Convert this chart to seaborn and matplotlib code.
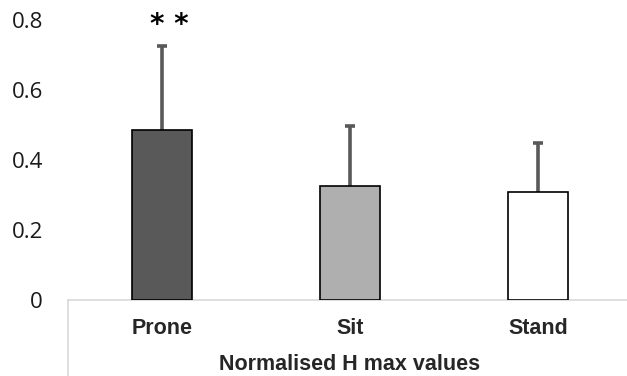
import pandas as pd
import seaborn as sns
import matplotlib.pyplot as plt
from matplotlib.lines import Line2D

sns.set_style("white")

postures = ["Prone", "Sit", "Stand"]
h_max = [0.486, 0.326, 0.310]
sd = [0.240, 0.171, 0.139]
bar_colors = ["#595959", "#afafaf", "#ffffff"]
y_ticks = [0, 0.2, 0.4, 0.6, 0.8]
y_tick_labels = ["0", "0.2", "0.4", "0.6", "0.8"]

df = pd.DataFrame({"posture": postures, "h_max": h_max, "sd": sd})
df["top"] = df["h_max"] + df["sd"]

fig = plt.figure(figsize=(6.27, 3.76), dpi=100)
ax = fig.add_axes([68 / 627, 1 - 300 / 376, 564 / 627, 280 / 376])

sns.barplot(data=df, x="posture", y="h_max", hue="posture", palette=bar_colors,
            width=0.32, edgecolor="black", linewidth=1.2, legend=False, ax=ax)
for p in ax.patches:
    p.set_zorder(3)

# upward-only error bars with a cap only at the top
ax.errorbar(range(len(postures)), df["h_max"], yerr=[[0] * len(sd), df["sd"]],
            fmt="none", ecolor="#595959", elinewidth=2.6, capsize=0, zorder=1)
ax.scatter(range(len(postures)), df["top"], marker="_", s=60, linewidths=2.6,
           color="#595959", zorder=1)

ax.text(0.04, 0.785, "* *", ha="center", va="center", fontsize=20, fontweight="bold",
        color="black", clip_on=False)

ax.set_ylim(0, 0.8)
ax.set_xlim(-0.5, 2.5)
ax.set_yticks(y_ticks)
ax.set_yticklabels(y_tick_labels, fontfamily="Open Sans", fontsize=16, color="#1a1a1a")
ax.tick_params(axis="y", length=0, pad=18)
ax.tick_params(axis="x", length=0, pad=13)
for lab in ax.get_xticklabels():
    lab.set_fontfamily("Liberation Sans")
    lab.set_fontweight("bold")
    lab.set_fontsize(15.5)
    lab.set_color("#262626")
ax.set_xlabel("Normalised H max values", fontfamily="Liberation Sans", fontweight="bold",
              fontsize=15.5, color="#262626", labelpad=11)
ax.set_ylabel("")

for side in ["left", "right", "top"]:
    ax.spines[side].set_visible(False)
ax.spines["bottom"].set_color("#d9d9d9")
ax.spines["bottom"].set_linewidth(1.2)

# frame line under the category axis
fig.add_artist(Line2D([68 / 627, 68 / 627], [0, 1 - 300 / 376], color="#d9d9d9", linewidth=1.2))

fig.savefig("out.png", dpi=100)
